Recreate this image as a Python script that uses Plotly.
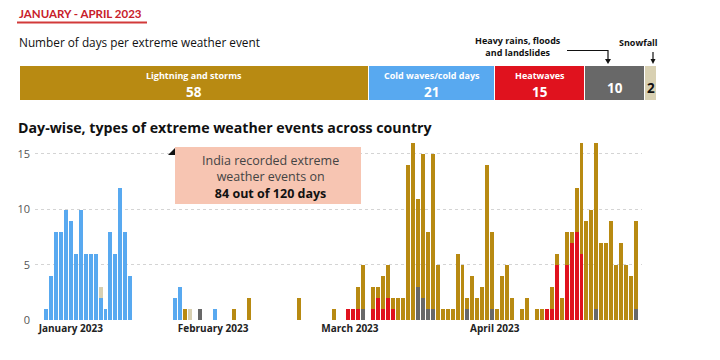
import plotly.graph_objects as go
import pandas as pd

# ---------------- data ----------------
event_names = ["Lightning and storms", "Cold waves/cold days", "Heatwaves",
               "Heavy rains, floods and landslides", "Snowfall"]
event_days = [58, 21, 15, 10, 2]

rain_dates = ["2023-02-01", "2023-03-06", "2023-03-17", "2023-03-18", "2023-03-19",
              "2023-03-20", "2023-03-27", "2023-04-01", "2023-04-22", "2023-04-30"]
rain_vals = [1, 1, 3, 2, 1, 1, 1, 1, 1, 1]

heat_dates = ["2023-03-03", "2023-03-04", "2023-03-05", "2023-03-08", "2023-03-09",
              "2023-03-10", "2023-03-11", "2023-03-12", "2023-04-12", "2023-04-13",
              "2023-04-14", "2023-04-16", "2023-04-17", "2023-04-18", "2023-04-19"]
heat_vals = [1, 1, 1, 1, 2, 1, 2, 1, 1, 1, 5, 5, 7, 8, 6]

cold_dates = ["2023-01-01", "2023-01-02", "2023-01-03", "2023-01-04", "2023-01-05",
              "2023-01-06", "2023-01-07", "2023-01-08", "2023-01-09", "2023-01-10",
              "2023-01-11", "2023-01-12", "2023-01-13", "2023-01-14", "2023-01-15",
              "2023-01-16", "2023-01-17", "2023-01-18", "2023-01-27", "2023-01-28",
              "2023-02-04"]
cold_vals = [1, 4, 8, 8, 10, 9, 6, 10, 6, 6, 6, 2, 1, 8, 6, 12, 8, 4, 2, 3, 1]

light_dates = ["2023-01-29", "2023-02-08", "2023-02-11", "2023-02-21", "2023-02-28",
               "2023-03-05", "2023-03-06", "2023-03-08", "2023-03-09", "2023-03-10",
               "2023-03-11", "2023-03-12", "2023-03-13", "2023-03-14", "2023-03-15",
               "2023-03-16", "2023-03-17", "2023-03-18", "2023-03-19", "2023-03-20",
               "2023-03-21", "2023-03-22", "2023-03-23", "2023-03-24", "2023-03-25",
               "2023-03-26", "2023-03-27", "2023-03-28", "2023-03-29", "2023-03-30",
               "2023-03-31", "2023-04-01", "2023-04-02", "2023-04-03", "2023-04-04",
               "2023-04-05", "2023-04-07", "2023-04-08", "2023-04-10", "2023-04-11",
               "2023-04-13", "2023-04-14", "2023-04-15", "2023-04-16", "2023-04-17",
               "2023-04-18", "2023-04-19", "2023-04-20", "2023-04-21", "2023-04-22",
               "2023-04-23", "2023-04-24", "2023-04-25", "2023-04-26", "2023-04-27",
               "2023-04-28", "2023-04-29", "2023-04-30"]
light_vals = [1, 1, 2, 2, 1,
              2, 4, 2, 1, 3,
              3, 1, 2, 2, 14,
              16, 8, 13, 7, 14,
              5, 1, 1, 1, 6,
              5, 1, 4, 2, 3,
              14, 7, 1, 4, 5,
              2, 1, 2, 1, 1,
              2, 1, 2, 3, 1,
              4, 10, 9, 10, 15,
              7, 7, 9, 5, 7,
              5, 4, 8]

snow_dates = ["2023-01-12", "2023-01-30"]
snow_vals = [1, 1]

month_labels = ["January 2023", "February 2023", "March 2023", "April 2023"]

# ---------------- style ----------------
C_GOLD = "#B88A12"
C_BLUE = "#58A9F0"
C_RED = "#E0121E"
C_GRAY = "#686868"
C_BEIGE = "#D8D0B2"
top_colors = [C_GOLD, C_BLUE, C_RED, C_GRAY, C_BEIGE]
FONT = "Open Sans"
OFF = 8                     # page body margin
W, H = 720 - OFF, 360 - OFF


def P(x):
    return (x - OFF) / W


def Q(y):
    return 1 - (y - OFF) / H


fig = go.Figure()

# ---- top summary stacked bar ----
for name, val, col in zip(event_names, event_days, top_colors):
    fig.add_trace(go.Bar(x=[val], y=[0], orientation="h", width=1,
                         marker=dict(color=col, line=dict(color="white", width=1.5)),
                         xaxis="x2", yaxis="y2", showlegend=False, hoverinfo="skip"))

# ---- daily stacked bars ----
day_ms = 86400000 * 0.8
for d, v, col in [(rain_dates, rain_vals, C_GRAY), (heat_dates, heat_vals, C_RED),
                  (cold_dates, cold_vals, C_BLUE), (light_dates, light_vals, C_GOLD),
                  (snow_dates, snow_vals, C_BEIGE)]:
    fig.add_trace(go.Bar(x=pd.to_datetime(d), y=v, width=day_ms,
                         marker=dict(color=col, line=dict(width=0)),
                         xaxis="x", yaxis="y", showlegend=False))

start = pd.Timestamp("2023-01-01")
xr = [start - pd.Timedelta(days=2.22), start + pd.Timedelta(days=120.2)]
tick_offsets = [5.0, 33.7, 61.3, 90.5]
tickvals = [start + pd.Timedelta(days=o) for o in tick_offsets]

fig.update_layout(
    width=W, height=H, margin=dict(l=0, r=0, t=0, b=0, autoexpand=False),
    paper_bgcolor="white", plot_bgcolor="white",
    barmode="stack", bargap=0,
    font=dict(family=FONT, color="#222"),
    xaxis=dict(domain=[P(35), P(642)], type="date", range=xr, automargin=False,
               tickvals=tickvals, ticktext=["<b>%s</b>" % m for m in month_labels],
               tickfont=dict(size=10, color="#222"), showgrid=False, zeroline=False,
               showline=False, ticks="", ticklabelstandoff=1),
    yaxis=dict(domain=[Q(320), Q(139.6)], range=[0, 16.3], tickvals=[0, 5, 10, 15],
               automargin=False,
               showgrid=True, gridcolor="#d4d4d4", griddash="dot", gridwidth=1,
               zeroline=False, showline=False, ticks="",
               tickfont=dict(size=11, color="#555"), ticklabelstandoff=4),
    xaxis2=dict(domain=[P(20), P(657)], range=[0, sum(event_days)], visible=False,
                anchor="y2"),
    yaxis2=dict(domain=[Q(101), Q(66)], range=[-0.5, 0.5], visible=False, anchor="x2"),
)

ann = []
# title block
ann.append(dict(xref="paper", yref="paper", x=P(17), y=Q(13.5), xanchor="left",
                yanchor="middle", showarrow=False,
                text="<b>JANUARY - APRIL 2023</b>",
                font=dict(family="Lato", size=11.5, color="#C8202A")))
ann.append(dict(xref="paper", yref="paper", x=P(17), y=Q(41.5), xanchor="left",
                yanchor="middle", showarrow=False,
                text="Number of days per extreme weather event",
                font=dict(size=11.8, color="#111")))
ann.append(dict(xref="paper", yref="paper", x=P(16), y=Q(128), xanchor="left",
                yanchor="middle", showarrow=False,
                text="<b>Day-wise, types of extreme weather events across country</b>",
                font=dict(size=14.2, color="#111")))

# labels inside top bar
cum = 0
for i, (name, val) in enumerate(zip(event_names, event_days)):
    cx = cum + val / 2
    if i < 3:
        ann.append(dict(xref="x2", yref="paper", x=cx, y=Q(76), showarrow=False,
                        yanchor="middle", text="<b>%s</b>" % name,
                        font=dict(size=9, color="white")))
        ann.append(dict(xref="x2", yref="paper", x=cx, y=Q(92), showarrow=False,
                        yanchor="middle", text="<b>%d</b>" % val,
                        font=dict(size=13.5, color="white")))
    elif i == 3:
        ann.append(dict(xref="x2", yref="paper", x=cx, y=Q(88), showarrow=False,
                        yanchor="middle", text="<b>%d</b>" % val,
                        font=dict(size=13.5, color="white")))
    else:
        ann.append(dict(xref="x2", yref="paper", x=cx, y=Q(88), showarrow=False,
                        yanchor="middle", text="<b>%d</b>" % val,
                        font=dict(size=13.5, color="#111")))
    cum += val

ann.append(dict(xref="paper", yref="paper", x=P(518), y=Q(46.5), showarrow=False,
                xanchor="center", yanchor="middle", align="center",
                text="<b>Heavy rains, floods</b><br><b>and landslides</b>",
                font=dict(size=9, color="#111")))
ann.append(dict(xref="paper", yref="paper", x=P(638), y=Q(42.5), showarrow=False,
                xanchor="center", yanchor="middle",
                text="<b>Snowfall</b>", font=dict(size=9, color="#111")))

# callout box text
ann.append(dict(xref="paper", yref="paper", x=P(270), y=Q(176.5), showarrow=False,
                xanchor="center", yanchor="middle", align="center",
                text="India recorded extreme<br>weather events on<br>"
                     "<b><span style='color:#111'>84 out of 120 days</span></b>",
                font=dict(size=12.5, color="#444")))
fig.update_layout(annotations=ann)

shapes = [
    dict(type="line", xref="paper", yref="paper", x0=P(17), x1=P(147), y0=Q(5), y1=Q(5),
         line=dict(color="#E06060", width=2)),
    dict(type="line", xref="paper", yref="paper", x0=P(17), x1=P(147), y0=Q(22.5),
         y1=Q(22.5), line=dict(color="#D23A3A", width=2)),
    # connector for heavy rains
    dict(type="path", xref="paper", yref="paper",
         path="M %f %f L %f %f L %f %f" % (P(567), Q(50.5), P(608), Q(50.5), P(608), Q(60)),
         line=dict(color="#111", width=1.2)),
    dict(type="path", xref="paper", yref="paper",
         path="M %f %f L %f %f L %f %f Z" % (P(605), Q(59), P(611), Q(59), P(608), Q(64)),
         fillcolor="#111", line=dict(width=0)),
    # snowfall arrow
    dict(type="line", xref="paper", yref="paper", x0=P(653), x1=P(653), y0=Q(52),
         y1=Q(60), line=dict(color="#111", width=1.2)),
    dict(type="path", xref="paper", yref="paper",
         path="M %f %f L %f %f L %f %f Z" % (P(650.5), Q(59), P(655.5), Q(59), P(653), Q(64)),
         fillcolor="#111", line=dict(width=0)),
    # callout box
    dict(type="rect", xref="paper", yref="paper", x0=P(175), x1=P(361), y0=Q(204),
         y1=Q(147), fillcolor="#F7C5B2", line=dict(width=0), layer="above"),
    dict(type="path", xref="paper", yref="paper",
         path="M %f %f L %f %f L %f %f Z" % (P(168), Q(155), P(175), Q(148), P(175), Q(155)),
         fillcolor="#111", line=dict(width=0)),
]
fig.update_layout(shapes=shapes)

fig.write_html("out.html")
